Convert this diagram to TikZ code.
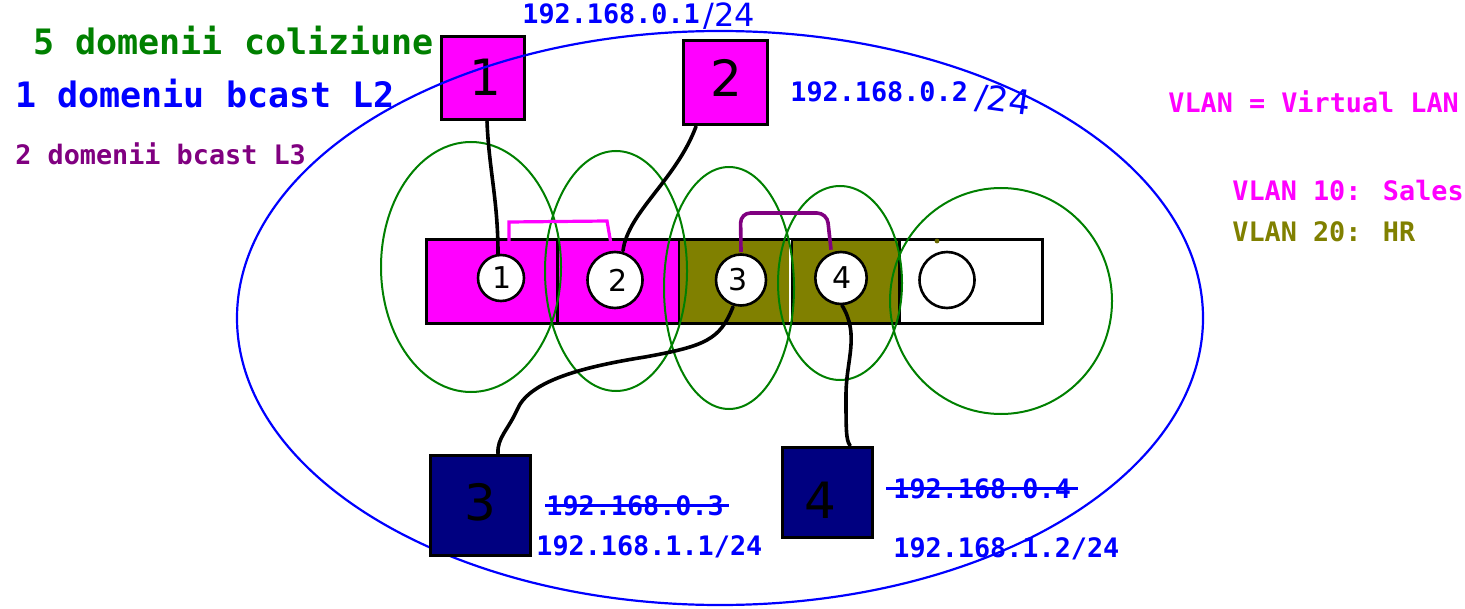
\documentclass[tikz,border=0pt]{standalone}
\usepackage{fontspec}
\setmainfont{DejaVu Sans}
\newfontfamily\monob{DejaVu Sans Mono}
\usetikzlibrary{shapes.geometric,calc}
\definecolor{cgreen}{RGB}{0,128,0}
\definecolor{cblue}{RGB}{0,0,255}
\definecolor{cpurple}{RGB}{128,0,128}
\definecolor{cmag}{RGB}{255,0,255}
\definecolor{colive}{RGB}{128,128,0}
\definecolor{cnavy}{RGB}{0,0,128}
\tikzset{
  bigtxt/.style={anchor=base west,inner sep=0,font=\monob\bfseries\fontsize{17.5pt}{20pt}\selectfont},
  smalltxt/.style={anchor=base west,inner sep=0,font=\monob\bfseries\fontsize{13.4pt}{16pt}\selectfont},
  hand/.style={inner sep=0,font=\fontsize{#1}{#1}\selectfont},
  pcbox/.style={draw=black,line width=1.5pt,rectangle,inner sep=0},
  portc/.style={draw=black,line width=1.3pt,fill=white,ellipse,inner sep=0},
  cable/.style={draw=black,line width=1.8pt,line cap=round,line join=round},
  coll/.style={draw=cgreen,line width=1pt},
}
\begin{document}
\begin{tikzpicture}[x=0.5pt,y=-0.5pt]
\useasboundingbox[fill=white] (0,0) rectangle (1465,609);

% broadcast domain
\draw[cblue,line width=1.1pt] (720,318) ellipse [x radius=241.5pt, y radius=143.5pt];

% switch segments
\fill[cmag] (426,239) rectangle (679,323);
\fill[colive] (679,239) rectangle (900,323);
\draw[black,line width=1.5pt] (426,239) rectangle (1042,323);
\draw[black,line width=1.5pt] (557,239) -- (557,323);
\draw[black,line width=1pt] (679,239) -- (679,323);
\draw[white,line width=1pt] (790,239.8) -- (790,322.2);
\draw[black,line width=1pt] (792,239) -- (792,323);
\draw[black,line width=1.5pt] (899,239) -- (899,323);
\fill[colive!80!black] (937,241) circle (1.2pt);

% collision domains
\draw[coll] (471,267) ellipse [x radius=45pt, y radius=62.5pt];
\draw[coll] (616,271) ellipse [x radius=35.5pt, y radius=60pt];
\draw[coll] (729,288) ellipse [x radius=32.5pt, y radius=60.5pt];
\draw[coll] (840,283) ellipse [x radius=31pt, y radius=48.5pt];
\draw[coll] (1001,301) ellipse [x radius=55.5pt, y radius=56.5pt];

% ports
\node[portc,minimum width=23pt,minimum height=23pt] (p1) at (501,278) {};
\node[portc,minimum width=27.5pt,minimum height=28pt] (p2) at (615,280) {};
\node[portc,minimum width=25pt,minimum height=25.5pt] (p3) at (741,280) {};
\node[portc,minimum width=25.7pt,minimum height=26pt] (p4) at (841,278) {};
\node[portc,minimum width=27.5pt,minimum height=28pt] (p5) at (947,280) {};
\node[hand=15pt] (p1t) at (502,278) {1};
\node[hand=15pt] (p2t) at (618,280) {2};
\node[hand=15pt] (p3t) at (738,280) {3};
\node[hand=15pt] (p4t) at (842,278) {4};

% VLAN brackets
\draw[cmag,line width=1.6pt] ($(p1.north)+(8,0)$) -- (509,222) -- (607,221) -- ($(p2.north)+(-3,-1)$);
\draw[cpurple,line width=1.8pt,rounded corners=5pt] ($(p3.north)+(0,-1)$) -- (740.5,213) -- (827,213) -- ($(p4.north)+(-10,-1)$);

% hosts
\node[pcbox,fill=cmag,minimum width=41.5pt,minimum height=41.5pt] (pc1) at (482.5,78.5) {};
\node[pcbox,fill=cmag,minimum width=42pt,minimum height=42pt] (pc2) at (725,83) {};
\node[pcbox,fill=cnavy,minimum width=50pt,minimum height=50pt] (pc3) at (480,505) {};
\node[pcbox,fill=cnavy,minimum width=45pt,minimum height=45pt] (pc4) at (827,492) {};
\node[hand=25pt] (pc1t) at (485,77) {1};
\node[hand=25pt] (pc2t) at (726,78) {2};
\node[hand=25pt] (pc3t) at (480,502) {3};
\node[hand=25pt] (pc4t) at (820,500) {4};

% blue ellipse arc over PC1
\begin{scope}
\clip (pc1.north west) rectangle (pc1.south east);
\draw[cblue,line width=1.1pt] (720,318) ellipse [x radius=241.5pt, y radius=143.5pt];
\end{scope}

% cables
\draw[cable] ($(pc1.south)+(4.5,0)$) .. controls (489,170) and (498,200) .. ($(p1.north)+(-3,0)$);
\draw[cable] ($(pc2.south)+(-29,0)$) .. controls (676,180) and (628,212) .. ($(p2.north)+(8,0)$);
\draw[cable] ($(p3.south)+(-8,0)$) .. controls (720,340) and (705,346) .. (645,357)
  .. controls (575,368) and (528,383) .. (517,410)
  .. controls (508,430) and (497,438) .. ($(pc3.north)+(18,0)$);
\draw[cable] ($(p4.south)+(1,0)$) .. controls (860,335) and (846,360) .. (846,395)
  .. controls (846,430) and (846,440) .. ($(pc4.north)+(23,0)$);

% texts
\node[bigtxt,text=cgreen] (t1) at (33,55) {5 domenii coliziune};
\node[bigtxt,text=cblue] (t2) at (15,108) {1 domeniu bcast L2};
\node[smalltxt,text=cpurple] (t3) at (15,165) {2 domenii bcast L3};
\node[smalltxt,text=cblue] (ip1) at (522,24) {192.168.0.1};
\node[hand=16pt,text=cblue,anchor=base west] (ip1m) at (703,27) {/24};
\node[smalltxt,text=cblue] (ip2) at (790,102) {192.168.0.2};
\node[hand=17pt,text=cblue,anchor=base west,rotate=-8] (ip2m) at (974,108) {/24};
\node[smalltxt,text=cmag] (v0) at (1168,113) {VLAN = Virtual LAN};
\node[smalltxt,text=cmag] (v10) at (1232,200) {VLAN 10: Sales};
\node[smalltxt,text=colive] (v20) at (1232,242) {VLAN 20: HR};
\node[smalltxt,text=cblue] (ip3o) at (546,515) {192.168.0.3};
\node[smalltxt,text=cblue] (ip3) at (536,555) {192.168.1.1/24};
\node[smalltxt,text=cblue] (ip4o) at (893,498) {192.168.0.4};
\node[smalltxt,text=cblue] (ip4) at (893,557) {192.168.1.2/24};
\draw[cblue,line width=1.3pt] ($(ip3o.west)+(-1,0)$) -- ($(ip3o.east)+(5,0)$);
\draw[cblue,line width=1.3pt] ($(ip4o.west)+(-7,0)$) -- ($(ip4o.east)+(7,0)$);
\end{tikzpicture}
\end{document}
